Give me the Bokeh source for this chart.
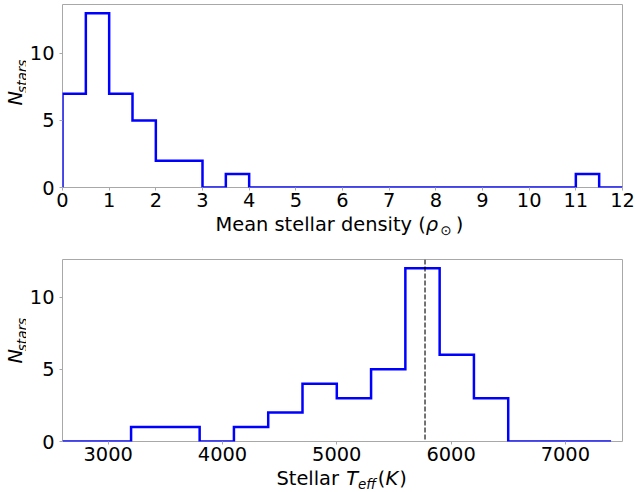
import math
from bokeh.plotting import figure
from bokeh.layouts import column, row
from bokeh.models import Span, FixedTicker, Range1d
from bokeh.core.properties import value
from bokeh.embed import file_html
from bokeh.resources import INLINE

# ---- data ----
rho_edges = [0.0, 0.5, 1.0, 1.5, 2.0, 2.5, 3.0, 3.5, 4.0, 4.5, 5.0, 5.5, 6.0,
             6.5, 7.0, 7.5, 8.0, 8.5, 9.0, 9.5, 10.0, 10.5, 11.0, 11.5, 12.0]
rho_counts = [7, 13, 7, 5, 2, 2, 0, 1, 0, 0, 0, 0, 0, 0, 0, 0, 0, 0, 0, 0, 0, 0, 1, 0]
rho_ticks = [0, 1, 2, 3, 4, 5, 6, 7, 8, 9, 10, 11, 12]

teff_edges = [2600, 2900, 3200, 3500, 3800, 4100, 4400, 4700, 5000, 5300,
              5600, 5900, 6200, 6500, 6800, 7100, 7400]
teff_counts = [0, 0, 1, 1, 0, 1, 2, 4, 3, 5, 12, 6, 3, 0, 0, 0]
teff_ticks = [3000, 4000, 5000, 6000, 7000]
teff_sun = 5772
teff_xlim = [2600, 7500]

count_ticks = [0, 5, 10]
rho_ylim = [0, 13.65]
teff_ylim = [0, 12.6]

FONT = "DejaVu Sans"
FS = 19.4
SFS = 13.5
GRAY = "#a8a8a8"
MID = 0.35  # text anchor sits ~0.35 em above the baseline in this renderer

W = 635
YLAB_W = 26
PW = W - YLAB_W
FRAME_W = 560
ML = 62 - YLAB_W
MR = W - 62 - FRAME_W


def step_path(edges, counts):
    xs = [edges[0]]
    ys = [0]
    for i, c in enumerate(counts):
        xs += [edges[i], edges[i + 1]]
        ys += [c, c]
    xs.append(edges[-1])
    ys.append(0)
    return xs, ys


def make_fig(h, top, frame_h, xr, yr, xticks):
    p = figure(width=PW, height=h, output_backend="svg", toolbar_location=None,
               x_range=Range1d(*xr), y_range=Range1d(*yr),
               min_border_left=ML, min_border_right=MR,
               min_border_top=top, min_border_bottom=h - top - frame_h)
    p.grid.visible = False
    p.outline_line_color = GRAY
    p.outline_line_width = 1
    p.background_fill_color = "white"
    p.border_fill_color = "white"
    for ax in (p.xaxis[0], p.yaxis[0]):
        ax.axis_line_color = None
        ax.major_tick_line_color = GRAY
        ax.major_tick_out = 3
        ax.major_tick_in = 0
        ax.minor_tick_line_color = None
        ax.major_label_text_font = FONT
        ax.major_label_text_font_size = "%.1fpx" % FS
        ax.major_label_text_color = "black"
    p.xaxis[0].ticker = FixedTicker(ticks=xticks)
    p.yaxis[0].ticker = FixedTicker(ticks=count_ticks)
    p.xaxis[0].major_label_standoff = 2
    p.yaxis[0].major_label_standoff = 5
    return p


def text_fig(w, h):
    # a blank canvas whose data units are pixels, y measured from the top
    f = figure(width=w, height=h, output_backend="svg", toolbar_location=None,
               title=None, x_axis_location=None, y_axis_location=None,
               x_range=Range1d(0, w), y_range=Range1d(h, 0),
               min_border=0, min_border_left=0, min_border_right=0,
               min_border_top=0, min_border_bottom=0)
    f.grid.visible = False
    f.outline_line_color = None
    f.background_fill_color = "white"
    f.border_fill_color = "white"
    return f


def put(f, x, y, s, size=FS, style="normal", angle=0.0):
    # (x, y): where the text baseline should start, in pixels
    if angle:
        x = x - MID * size
    else:
        y = y - MID * size
    f.text(x=[x], y=[y], text=[s], angle=angle,
           text_font=value(FONT), text_font_size=value("%.1fpx" % size),
           text_font_style=style, text_color="black",
           text_align="left", text_baseline="alphabetic")


def ylabel_fig(h, center):
    f = text_fig(YLAB_W, h)
    n_w = 0.748 * FS
    s_w = 2.458 * SFS
    start = center + (n_w + s_w) / 2.0
    put(f, 22, start, "N", style="italic", angle=math.pi / 2)
    put(f, 26.5, start - n_w - 0.5, "stars", size=SFS, style="italic", angle=math.pi / 2)
    return f


# ---------------- top panel ----------------
H1 = 216
TOP1, FH1 = 4, 183
p1 = make_fig(H1, TOP1, FH1, (rho_edges[0], rho_edges[-1]), rho_ylim, rho_ticks)
xs, ys = step_path(rho_edges, rho_counts)
p1.line(xs, ys, line_color="blue", line_width=2.5, line_join="miter")
yl1 = ylabel_fig(H1, TOP1 + FH1 / 2.0)

XL1_H = 246 - H1
xl1 = text_fig(W, XL1_H)
bx = 215
by = 231 - H1
w_main = 10.844 * FS
put(xl1, bx, by, "Mean stellar density (")
put(xl1, bx + w_main, by, "ρ", style="italic")
put(xl1, bx + w_main + 0.64 * FS + 2, by + 3, "⊙", size=SFS)
put(xl1, bx + w_main + 0.64 * FS + 0.84 * SFS + 6, by, ")")

# ---------------- bottom panel ----------------
H2 = 224
TOP2, FH2 = 13, 182
p2 = make_fig(H2, TOP2, FH2, teff_xlim, teff_ylim, teff_ticks)
xs, ys = step_path(teff_edges, teff_counts)
p2.line(xs, ys, line_color="blue", line_width=2.5, line_join="miter")
p2.add_layout(Span(location=teff_sun, dimension="height", line_color="black",
                   line_width=1.1, line_dash="5 2"))
yl2 = ylabel_fig(H2, TOP2 + FH2 / 2.0)

XL2_H = 492 - 246 - H2
xl2 = text_fig(W, XL2_H)
by2 = 485 - 246 - H2
x = 276.0
put(xl2, x, by2, "Stellar ")
x += 3.54 * FS + 1
put(xl2, x, by2, "T", style="italic")
x += 0.611 * FS
put(xl2, x, by2 + 3.5, "eff", size=SFS, style="italic")
x += 1.319 * SFS + 2
put(xl2, x, by2, "(")
x += 0.39 * FS
put(xl2, x, by2, "K", style="italic")
x += 0.656 * FS + 1
put(xl2, x, by2, ")")

layout = column(row(yl1, p1, spacing=0), xl1, row(yl2, p2, spacing=0), xl2, spacing=0)
open("out.html", "w").write(file_html(layout, INLINE))
